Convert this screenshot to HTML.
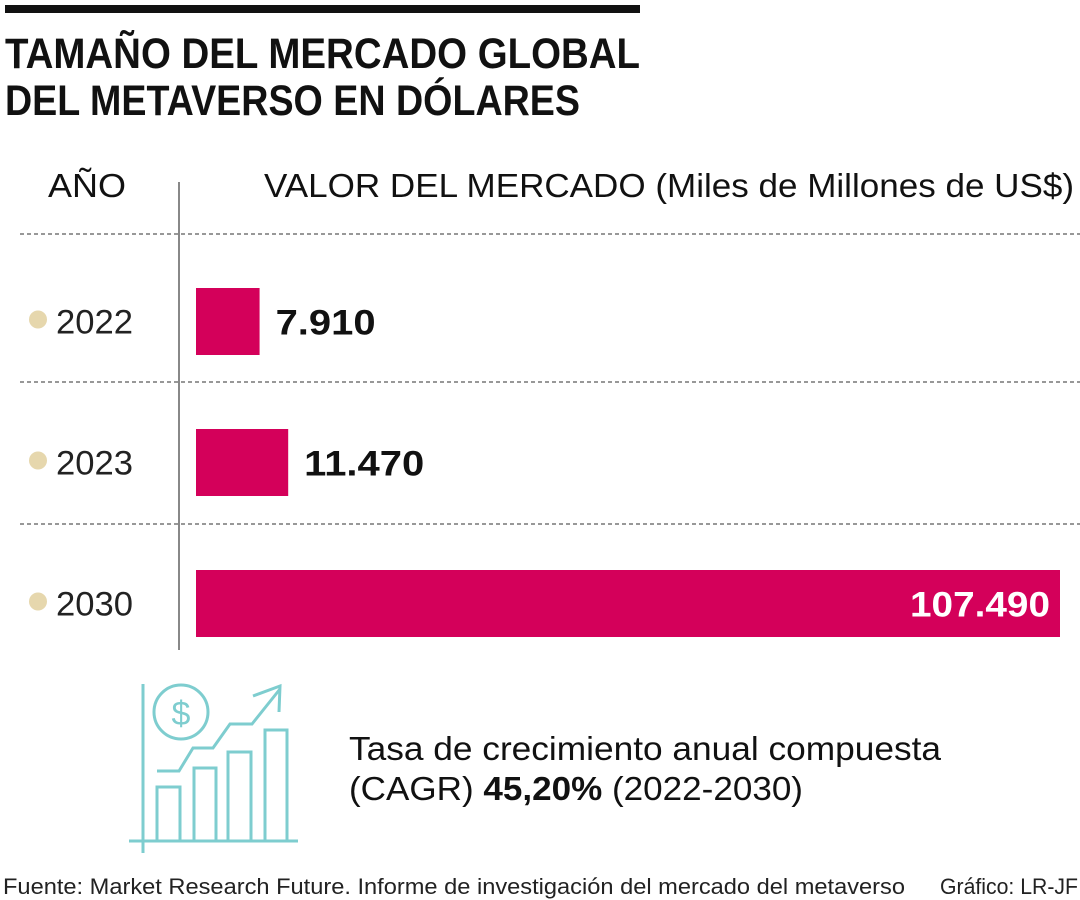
<!DOCTYPE html>
<html><head><meta charset="utf-8"><style>
html,body{margin:0;padding:0;background:#fff;}
svg{display:block;font-family:"Liberation Sans",sans-serif;}
</style></head><body>
<svg width="1080" height="900" viewBox="0 0 1080 900">
<rect x="5" y="5" width="635" height="8" fill="#111"/>
<text x="5" y="68" font-size="43" font-weight="bold" fill="#111" textLength="635" lengthAdjust="spacingAndGlyphs">TAMAÑO DEL MERCADO GLOBAL</text>
<text x="5" y="115" font-size="43" font-weight="bold" fill="#111" textLength="575" lengthAdjust="spacingAndGlyphs">DEL METAVERSO EN DÓLARES</text>
<text x="48" y="197" font-size="33" fill="#111" textLength="78" lengthAdjust="spacingAndGlyphs">AÑO</text>
<text x="264" y="197" font-size="33" fill="#111" textLength="810" lengthAdjust="spacingAndGlyphs">VALOR DEL MERCADO (Miles de Millones de US$)</text>
<line x1="179" y1="182" x2="179" y2="650" stroke="#888" stroke-width="2"/>
<g id="chart"></g>
<g fill="none" stroke="#7ecdcf" stroke-width="3">
<line x1="143" y1="684" x2="143" y2="853"/>
<line x1="129" y1="841" x2="298" y2="841"/>
<circle cx="181" cy="712" r="27"/>
<text x="181" y="725" font-size="34" fill="#7ecdcf" stroke="none" text-anchor="middle">$</text>
<rect x="157" y="787" width="23" height="54"/>
<rect x="194" y="768" width="22" height="73"/>
<rect x="228" y="752" width="23" height="89"/>
<rect x="265" y="730" width="22" height="111"/>
<polyline points="157,771 179,771 193,748 213,748 230,724 252,724 280,689"/>
<polyline points="253,696 280,686 279,712"/>
</g>
<text x="349" y="760" font-size="33" fill="#111" textLength="592" lengthAdjust="spacingAndGlyphs">Tasa de crecimiento anual compuesta</text>
<text x="349" y="800" font-size="33" fill="#111" textLength="454" lengthAdjust="spacingAndGlyphs">(CAGR) <tspan font-weight="bold">45,20%</tspan> (2022-2030)</text>
<text x="3" y="894" font-size="22" fill="#222" textLength="902" lengthAdjust="spacingAndGlyphs">Fuente: Market Research Future. Informe de investigación del mercado del metaverso</text>
<text x="940" y="894" font-size="22" fill="#222" textLength="138" lengthAdjust="spacingAndGlyphs">Gráfico: LR-JF</text>
</svg>
<script>
const years=["2022","2023","2030"];
const values=[7910,11470,107490];
const labels=["7.910","11.470","107.490"];
const NS="http://www.w3.org/2000/svg";
const g=document.getElementById("chart");
const x0=196,scale=864/107490;
const xs=v=>v*scale;
function mk(t,a){const e=document.createElementNS(NS,t);for(const k in a)e.setAttribute(k,a[k]);g.appendChild(e);return e;}
[234,382,524].forEach(y=>{
const l=mk("line",{x1:20,x2:1080,y1:y,y2:y,stroke:"#777","stroke-width":1.5,"stroke-dasharray":"4,3"});


});
years.forEach((yr,i)=>{
const top=288+i*141,h=67,cy=top+h/2;
const d=mk("circle",{cx:38,cy:cy-2,r:9,fill:"#e6d7ad"});


const t=mk("text",{x:56,y:cy+12,"font-size":34,fill:"#222",textLength:77,lengthAdjust:"spacingAndGlyphs"});t.textContent=yr;


const w=xs(values[i]);
const b=mk("rect",{x:x0,y:top,width:w,height:h,fill:"#d4005a"});


const inside=w>400;
const tl=labels[i].length*20;
const v=mk("text",{x:inside?x0+w-10-tl:x0+w+16,y:cy+13,"font-size":35,"font-weight":"bold",fill:inside?"#fff":"#111",textLength:tl,lengthAdjust:"spacingAndGlyphs"});
v.textContent=labels[i];


});
</script>
</body></html>
